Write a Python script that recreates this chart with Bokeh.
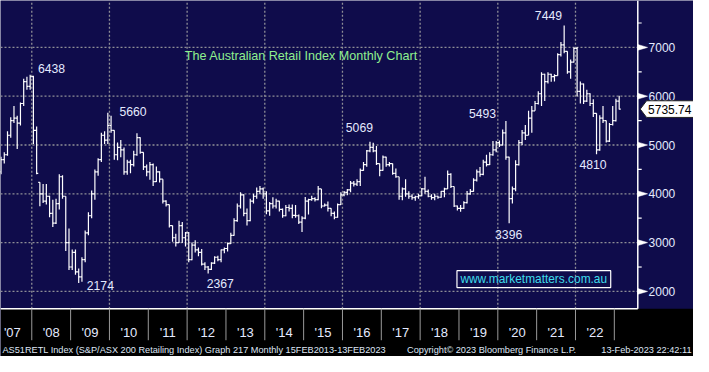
import numpy as np
from bokeh.plotting import figure
from bokeh.models import Range1d
from bokeh.embed import file_html
from bokeh.resources import INLINE
from bokeh.core.properties import value

# ---------------- data (monthly OHLC, AS51RETL) ----------------
start_year = 2007
start_month = 3  # first bar: March 2007

opens = [
    4450, 4700, 4800, 5200, 5500, 5550, 5450, 5850, 6300, 6200,                     # 2007 Mar-Dec
    6400, 5300, 4235, 4000, 3850, 3950, 3600, 3400, 3800, 4350, 3950, 3000,         # 2008
    2500, 2800, 2400, 2300, 2650, 3200, 3550, 4000, 4450, 4700, 5200, 5100,         # 2009
    5400, 5300, 4800, 4950, 4900, 4450, 4650, 4600, 4800, 5150, 4850, 4550,         # 2010
    4450, 4600, 4250, 4450, 4300, 3850, 3780, 3350, 3100, 3000, 3350, 3100,         # 2011
    3200, 2650, 2950, 2850, 2800, 2560, 2500, 2450, 2580, 2700, 2650, 2850,         # 2012
    2880, 2980, 3150, 3450, 3750, 3980, 3600, 3450, 3850, 3950, 4050, 4100,         # 2013
    4000, 3650, 3800, 3750, 3850, 3680, 3550, 3720, 3700, 3560, 3550, 3420,         # 2014
    3500, 3850, 3880, 3900, 3880, 4100, 3750, 3770, 3700, 3600, 3520, 3780,         # 2015
    3980, 4030, 4080, 4220, 4200, 4250, 4480, 4600, 4880, 4950, 4880, 4620,         # 2016
    4480, 4750, 4600, 4620, 4420, 4350, 3950, 4100, 4000, 3950, 3920, 3940,         # 2017
    3960, 4100, 4050, 3950, 3920, 3950, 3930, 4050, 4100, 4400, 4150, 3750,         # 2018
    3700, 3700, 3820, 4000, 4050, 4280, 4450, 4400, 4650, 4600, 4800, 4900,         # 2019
    5050, 5000, 5250, 4750, 3900, 4100, 4600, 5050, 5250, 5200, 5550, 5700,         # 2020
    5850, 6050, 6450, 6300, 6450, 6400, 6420, 6850, 7050, 6920, 6500, 6700,         # 2021
    6980, 6100, 6250, 5900, 6050, 5850, 5650, 4900, 5550, 5500, 5080, 5420,         # 2022
    5500, 5900,                                                                     # 2023 Jan-Feb
]
highs = [
    4760, 4850, 5280, 5570, 5800, 5600, 5870, 6360, 6400, 6438,
    6420, 5380, 4235, 4200, 4200, 3960, 3880, 3900, 4400, 4380, 3950, 3290,
    2860, 2860, 2470, 2700, 3250, 3620, 4070, 4500, 4730, 5250, 5280, 5660,
    5600, 5300, 5050, 5100, 4950, 4700, 4700, 4880, 5240, 5160, 4850, 4600,
    4650, 4620, 4560, 4460, 4300, 3870, 3780, 3350, 3180, 3450, 3420, 3220,
    3220, 3000, 3050, 2900, 2870, 2600, 2520, 2600, 2720, 2730, 2860, 2900,
    3000, 3200, 3500, 3800, 4030, 3990, 3700, 3900, 4000, 4130, 4160, 4130,
    4050, 3830, 3930, 3900, 3860, 3700, 3770, 3780, 3780, 3770, 3575, 3540,
    3935, 3900, 3960, 3930, 4160, 4100, 3800, 3840, 3705, 3640, 3800, 4030,
    4060, 4100, 4260, 4260, 4300, 4520, 4650, 4900, 5069, 5045, 4980, 4620,
    4785, 4760, 4650, 4620, 4520, 4350, 4130, 4300, 4050, 3990, 3960, 4000,
    4120, 4350, 4090, 3990, 4000, 3960, 4060, 4125, 4480, 4420, 4150, 3760,
    3770, 3850, 4060, 4100, 4320, 4500, 4550, 4700, 4800, 4850, 5080, 5080,
    5090, 5320, 5493, 4760, 4150, 4690, 5100, 5310, 5410, 5700, 5800, 5900,
    6100, 6490, 6460, 6490, 6460, 6450, 6880, 7110, 7449, 6920, 6750, 7000,
    7010, 6300, 6260, 6130, 6060, 5940, 5650, 5610, 5800, 5500, 5450, 5800,
    5950, 6010,
]
lows = [
    4400, 4620, 4780, 5150, 5450, 4920, 5400, 5800, 6130, 6130,
    5020, 4400, 3745, 3810, 3780, 3520, 3320, 3380, 3680, 3900, 2830, 2440,
    2440, 2340, 2174, 2200, 2600, 3150, 3500, 3880, 4370, 4650, 5020, 5020,
    5250, 4700, 4690, 4750, 4390, 4390, 4420, 4560, 4780, 4820, 4490, 4360,
    4290, 4160, 4240, 4230, 3800, 3740, 3310, 3020, 2920, 2990, 2990, 2920,
    2600, 2640, 2800, 2720, 2530, 2440, 2367, 2440, 2560, 2620, 2600, 2780,
    2820, 2970, 3140, 3430, 3700, 3540, 3350, 3440, 3800, 3900, 3990, 3900,
    3580, 3550, 3700, 3700, 3640, 3510, 3540, 3640, 3500, 3510, 3380, 3216,
    3480, 3575, 3860, 3840, 3870, 3705, 3740, 3640, 3540, 3480, 3510, 3770,
    3950, 3970, 4030, 4150, 4160, 4160, 4470, 4555, 4850, 4850, 4590, 4360,
    4470, 4555, 4560, 4390, 4330, 3880, 3870, 3940, 3900, 3880, 3860, 3900,
    3950, 4000, 3930, 3880, 3870, 3900, 3920, 3930, 4100, 4120, 3730, 3660,
    3630, 3690, 3800, 3980, 4040, 4250, 4350, 4380, 4560, 4590, 4780, 4850,
    4960, 4990, 4700, 3396, 3800, 4050, 4580, 5000, 5100, 5200, 5250, 5700,
    5830, 5800, 5900, 6260, 6295, 6300, 6420, 6815, 6880, 6460, 6360, 6690,
    6000, 5850, 5840, 5880, 5800, 5575, 4810, 4880, 5450, 5050, 5060, 5400,
    5480, 5730,
]
closes = [
    4700, 4800, 5200, 5500, 5550, 5450, 5850, 6300, 6200, 6400,
    5300, 4420, 4000, 3850, 3950, 3600, 3400, 3800, 4350, 3950, 3000, 2500,
    2800, 2400, 2300, 2650, 3200, 3550, 4000, 4450, 4700, 5200, 5100, 5400,
    5300, 4800, 4950, 4900, 4450, 4650, 4600, 4800, 5150, 4850, 4550, 4450,
    4600, 4250, 4450, 4300, 3850, 3780, 3350, 3100, 3000, 3350, 3100, 3200,
    2650, 2950, 2850, 2800, 2560, 2500, 2450, 2580, 2700, 2650, 2850, 2880,
    2980, 3150, 3450, 3750, 3980, 3600, 3450, 3850, 3950, 4050, 4100, 4000,
    3650, 3800, 3750, 3850, 3680, 3550, 3720, 3700, 3560, 3550, 3420, 3500,
    3850, 3880, 3900, 3880, 4100, 3750, 3770, 3700, 3600, 3520, 3780, 3980,
    4030, 4080, 4220, 4200, 4250, 4480, 4600, 4880, 4950, 4880, 4620, 4480,
    4750, 4600, 4620, 4420, 4350, 3950, 4100, 4000, 3950, 3920, 3940, 3960,
    4100, 4050, 3950, 3920, 3950, 3930, 4050, 4100, 4400, 4150, 3750, 3700,
    3700, 3820, 4000, 4050, 4280, 4450, 4400, 4650, 4600, 4800, 4900, 5050,
    5000, 5250, 4750, 3900, 4100, 4600, 5050, 5250, 5200, 5550, 5700, 5850,
    6050, 6450, 6300, 6450, 6400, 6420, 6850, 7050, 6920, 6500, 6700, 6980,
    6100, 6250, 5900, 6050, 5850, 5650, 4900, 5550, 5500, 5080, 5420, 5500,
    5900, 5735.74,
]

year_label_years = list(range(2007, 2023))
year_labels = ["'07", "'08", "'09", "'10", "'11", "'12", "'13", "'14",
               "'15", "'16", "'17", "'18", "'19", "'20", "'21", "'22"]
separator_years = list(range(2008, 2024))
grid_years = [2008, 2010, 2012, 2014, 2016, 2018, 2020, 2022]
y_ticks = [2000, 3000, 4000, 5000, 6000, 7000]
y_tick_labels = ["2000", "3000", "4000", "5000", "6000", "7000"]
y_minor_ticks = [2500, 3500, 4500, 5500, 6500, 7500]

extreme_labels = ["6438", "5660", "2174", "2367", "5069", "5493", "3396", "7449", "4810"]

title_text = "The Australian Retail Index Monthly Chart"
website_text = "www.marketmatters.com.au"
footer_left = "AS51RETL Index (S&P/ASX 200 Retailing Index) Graph 217  Monthly 15FEB2013-13FEB2023"
footer_mid = "Copyright\u00a9 2023 Bloomberg Finance L.P."
footer_right = "13-Feb-2023 22:42:11"

# ---------------- geometry (reference picture pixels -> data) ----------------
REF_W, REF_H = 709, 372
PX_PER_YEAR = (628 - 32) / 15.0
X_LEFT = 2008 - 32 / PX_PER_YEAR
X_RIGHT = X_LEFT + REF_W / PX_PER_YEAR
PX_PER_1000 = 51.0
Y_TOP = 7000 + 49 * 1000 / PX_PER_1000
Y_BOTTOM = Y_TOP - REF_H * 1000 / PX_PER_1000


def fx(px):
    return X_LEFT + px / PX_PER_YEAR


def fy(py):
    return Y_TOP - py * 1000 / PX_PER_1000


def dyv(py):
    return py * 1000 / PX_PER_1000


AXIS_X = fx(652)
BAND_TOP = fy(322)

NAVY = "#0f0c4b"
GRID = "#8e8e96"
FONT = value("Liberation Sans")
LABEL_COL = "#e4eaff"

W, H = 693, 356
p = figure(width=W, height=H, x_range=Range1d(X_LEFT, X_RIGHT),
           y_range=Range1d(Y_BOTTOM, Y_TOP), output_backend="svg",
           toolbar_location=None, x_axis_type=None, y_axis_type=None,
           title=None, min_border=0, min_border_left=0, min_border_right=0,
           min_border_top=0, min_border_bottom=0,
           background_fill_color=NAVY, border_fill_color=NAVY,
           outline_line_color=None)

# grid
p.segment(x0=[X_LEFT] * len(y_ticks), x1=[AXIS_X] * len(y_ticks), y0=y_ticks, y1=y_ticks,
          line_color=GRID, line_width=1.3, line_dash="2 2")
p.segment(x0=grid_years, x1=grid_years, y0=[BAND_TOP] * len(grid_years),
          y1=[Y_TOP] * len(grid_years), line_color=GRID, line_width=1.3, line_dash="2 2")

# OHLC bars
n = len(closes)
mi = np.arange(n) + (start_month - 1)
xc = start_year + (mi + 0.5) / 12.0
half = 1 / 24.0
o = np.array(opens, dtype=float)
hh = np.array(highs, dtype=float)
ll = np.array(lows, dtype=float)
c = np.array(closes, dtype=float)
p.segment(x0=xc, x1=xc, y0=ll, y1=hh, line_color="white", line_width=1.2)
p.segment(x0=xc - half, x1=xc, y0=o, y1=o, line_color="white", line_width=1.2)
p.segment(x0=xc, x1=xc + half, y0=c, y1=c, line_color="white", line_width=1.2)

# bottom band
p.quad(left=[X_LEFT], right=[X_RIGHT], bottom=[Y_BOTTOM], top=[BAND_TOP],
       fill_color="black", line_color=None)
p.segment(x0=[X_LEFT], x1=[AXIS_X], y0=[BAND_TOP], y1=[BAND_TOP], line_color="white", line_width=1.5)
p.segment(x0=separator_years, x1=separator_years, y0=[BAND_TOP] * len(separator_years),
          y1=[fy(355)] * len(separator_years), line_color="#9a9a9a", line_width=1)
p.text(x=[yy + 0.5 for yy in year_label_years], y=[fy(347)] * len(year_labels), text=year_labels,
       text_font=FONT, text_font_size="13px", text_color=LABEL_COL,
       text_align="center", text_baseline="middle")

p.text(x=[fx(2)], y=[fy(365)], text=[footer_left], text_font=FONT, text_font_size="9.2px",
       text_color="#dfe6f5", text_align="left", text_baseline="middle")
p.text(x=[fx(416)], y=[fy(365)], text=[footer_mid], text_font=FONT, text_font_size="9.2px",
       text_color="#dfe6f5", text_align="left", text_baseline="middle")
p.text(x=[fx(707)], y=[fy(365)], text=[footer_right], text_font=FONT, text_font_size="9.2px",
       text_color="#dfe6f5", text_align="right", text_baseline="middle")

# right axis
p.segment(x0=[AXIS_X], x1=[AXIS_X], y0=[BAND_TOP], y1=[Y_TOP], line_color="white", line_width=1.5)
p.segment(x0=[AXIS_X] * len(y_minor_ticks), x1=[fx(656)] * len(y_minor_ticks),
          y0=y_minor_ticks, y1=y_minor_ticks, line_color="white", line_width=1.2)
tri_xs = [[AXIS_X, fx(662), AXIS_X] for t in y_ticks]
tri_ys = [[t + dyv(3), t, t - dyv(3)] for t in y_ticks]
p.patches(xs=tri_xs, ys=tri_ys, fill_color="white", line_color="white", line_width=0.5)
p.text(x=[fx(663)] * len(y_ticks), y=y_ticks, text=y_tick_labels, text_font=FONT,
       text_font_size="12px", text_color=LABEL_COL, text_align="left", text_baseline="middle")

# last price tag
last = closes[-1]
hv = dyv(8.7)
p.patch(x=[fx(654.5), fx(661), X_RIGHT, X_RIGHT, fx(661)],
        y=[last, last + hv, last + hv, last - hv, last - hv],
        fill_color="white", line_color="#222222", line_width=1)
p.text(x=[fx(662.5)], y=[last], text=[f"{last:.2f}"], text_font=FONT, text_font_size="12px",
       text_color="black", text_align="left", text_baseline="middle")

# extreme value annotations (left edge px, centre px)
ann_px = [(38.3, 71), (121.7, 116), (88.3, 297.3), (211, 296), (353.3, 133),
          (479.3, 117.7), (506, 244.7), (546.7, 15.7), (592.3, 171.7)]
p.text(x=[fx(a) for a, b in ann_px], y=[fy(b) for a, b in ann_px], text=extreme_labels,
       text_font=FONT, text_font_size="12.2px", text_color=LABEL_COL,
       text_align="left", text_baseline="middle")

# title
p.text(x=[fx(188.5)], y=[fy(58.5)], text=[title_text], text_font=FONT,
       text_font_size="12.6px", text_color="#8ff08f", text_align="left", text_baseline="middle")

# website box
p.quad(left=[fx(467)], right=[fx(624.3)], top=[fy(282.3)], bottom=[fy(300)],
       fill_alpha=0, line_color="white", line_width=1.2)
p.text(x=[fx(470.5)], y=[fy(291.2)], text=[website_text], text_font=FONT,
       text_font_size="11.9px", text_color="#3fdcec", text_align="left", text_baseline="middle")

open("out.html", "w").write(file_html(p, INLINE))
